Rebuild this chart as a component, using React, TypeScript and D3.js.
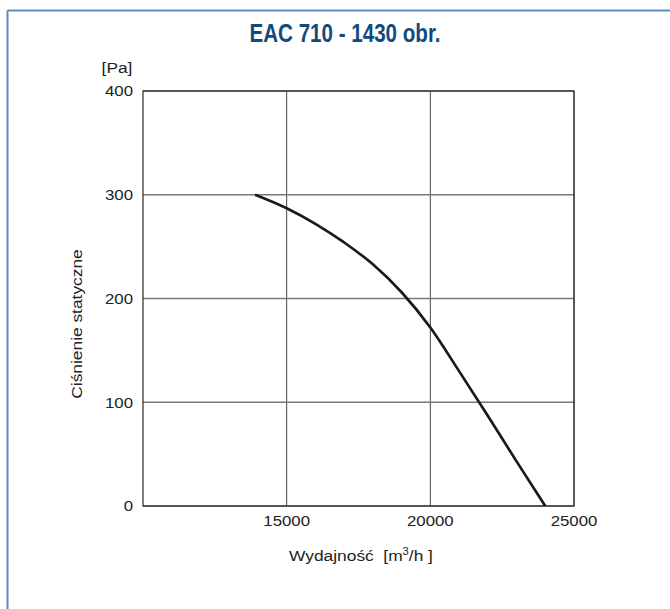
import { useMemo } from "react";
import * as d3 from "d3";

const FLOW = [13900, 15000, 16000, 17000, 18000, 19000, 20000, 21000, 22000, 23000, 24000];
const PRESSURE = [300, 287, 272, 254, 233, 206, 172, 130, 87, 43, 0];
const X_TICKS = [15000, 20000, 25000];
const Y_TICKS = [0, 100, 200, 300, 400];

const MARGIN = { top: 91, right: 96, bottom: 103, left: 143 };
const W = 670;
const H = 609;
const SX = 1.12; // the source type is a bit wider than Arial

export default function App() {
  const boundsWidth = W - MARGIN.left - MARGIN.right;
  const boundsHeight = H - MARGIN.top - MARGIN.bottom;

  const xScale = useMemo(() => d3.scaleLinear().domain([10000, 25000]).range([0, boundsWidth]), [boundsWidth]);
  const yScale = useMemo(() => d3.scaleLinear().domain([0, 400]).range([boundsHeight, 0]), [boundsHeight]);

  const points = FLOW.map((f, i) => [f, PRESSURE[i]] as [number, number]);
  const linePath = d3
    .line<[number, number]>()
    .x((d) => xScale(d[0]))
    .y((d) => yScale(d[1]))
    .curve(d3.curveMonotoneX)(points);

  const font = "'Liberation Sans', Arial, sans-serif";
  const ink = "#222";

  return (
    <svg width={W} height={H} style={{ position: "absolute", left: 0, top: 0 }}>
      <rect width={W} height={H} fill="#fff" />
      {/* frame on left and top */}
      <line x1={7.5} y1={10.5} x2={W} y2={10.5} stroke="#5d8cc0" strokeWidth={2} />
      <line x1={7.5} y1={10.5} x2={7.5} y2={H} stroke="#5d8cc0" strokeWidth={2} />

      <text
        x={345}
        y={42}
        textAnchor="middle"
        fontFamily="'Liberation Sans Narrow', 'Liberation Sans', sans-serif"
        fontWeight="bold"
        fontSize={25}
        fill="#134a7c"
        textLength={191}
        lengthAdjust="spacingAndGlyphs"
      >
        EAC 710 - 1430 obr.
      </text>

      <g transform={`translate(${MARGIN.left},${MARGIN.top})`}>
        {X_TICKS.map((t) => (
          <line key={"gx" + t} x1={xScale(t)} x2={xScale(t)} y1={0} y2={boundsHeight} stroke="#444" strokeWidth={1} />
        ))}
        {Y_TICKS.map((t) => (
          <line key={"gy" + t} x1={0} x2={boundsWidth} y1={yScale(t)} y2={yScale(t)} stroke="#777" strokeWidth={1.3} />
        ))}
        <rect x={0} y={0} width={boundsWidth} height={boundsHeight} fill="none" stroke="#2a2a2a" strokeWidth={1.2} />

        {linePath && <path d={linePath} fill="none" stroke="#1a1a1a" strokeWidth={2.7} strokeLinecap="butt" />}

        {Y_TICKS.map((t) => (
          <g key={"ty" + t} transform={`translate(-10,${yScale(t)}) scale(${SX},1)`}>
            <text dy="0.35em" textAnchor="end" fontFamily={font} fontSize={15} fill={ink}>
              {t}
            </text>
          </g>
        ))}
        {X_TICKS.map((t) => (
          <g key={"tx" + t} transform={`translate(${xScale(t)},${boundsHeight + 15}) scale(${SX},1)`}>
            <text dy="0.35em" textAnchor="middle" fontFamily={font} fontSize={15} fill={ink}>
              {t}
            </text>
          </g>
        ))}
      </g>

      <g transform={`translate(117,73) scale(${SX},1)`}>
        <text textAnchor="middle" fontFamily={font} fontSize={15.5} fill={ink}>
          [Pa]
        </text>
      </g>
      <g transform={`translate(82,324) rotate(-90) scale(${SX},1)`}>
        <text textAnchor="middle" fontFamily={font} fontSize={15.5} fill={ink}>
          Ciśnienie statyczne
        </text>
      </g>
      <g transform={`translate(361,561) scale(${SX},1)`}>
        <text textAnchor="middle" fontFamily={font} fontSize={15.5} fill={ink} xmlSpace="preserve">
          {"Wydajność  [m"}
          <tspan dy={-6} fontSize={10}>3</tspan>
          <tspan dy={6}>{"/h ]"}</tspan>
        </text>
      </g>
    </svg>
  );
}
